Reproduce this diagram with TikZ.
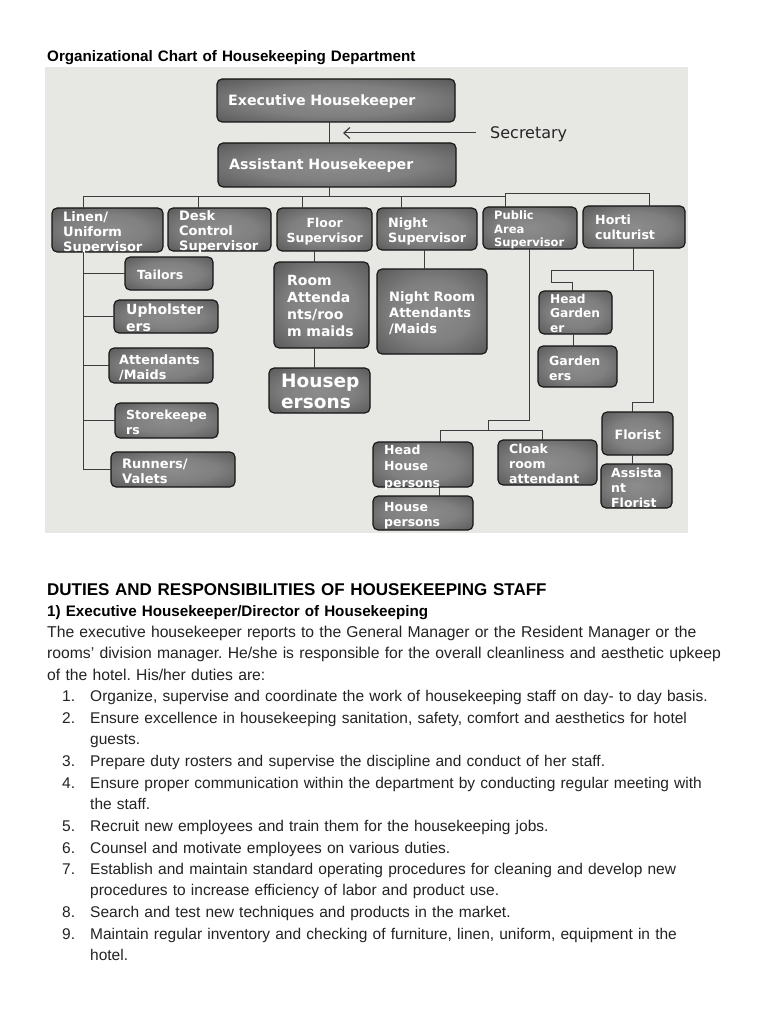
\documentclass[tikz,border=0pt]{standalone}
\usepackage{fontspec}
\setmainfont{Liberation Sans}
\newfontfamily\boxfont{DejaVu Sans}
\usetikzlibrary{arrows.meta}
\frenchspacing
\definecolor{bgc}{RGB}{231,232,228}
\definecolor{linec}{RGB}{60,60,60}
\definecolor{txtc}{RGB}{35,35,35}
\pgfdeclareradialshading{boxshade}{\pgfpoint{0bp}{0bp}}{color(0bp)=(black!45); color(18bp)=(black!50); color(32bp)=(black!62); color(43bp)=(black!78); color(50bp)=(black!86); color(72bp)=(black!88)}
\newcommand{\hkb}[5]{\node[hkbox, minimum width={#4-#2}, minimum height={#5-#3}] (#1) at (#2,#3) {};}
\newcommand{\fsz}[2]{\fontsize{#1}{#2}\selectfont}
\tikzset{
  hkbox/.style={draw=black!92, line width=1.1pt, rounded corners=5pt, shade, shading=boxshade, anchor=north west, inner sep=0pt, outer sep=0pt},
  bt/.style={text=white, inner sep=0pt, anchor=base west, text width=130pt, align=left},
  bf/.style 2 args={font=\boxfont\bfseries\fontsize{#1}{#2}\selectfont},
  conn/.style={draw=linec, line width=1pt},
  body/.style={text=txtc, inner sep=0pt, anchor=base west, align=left, text width=700pt},
}
\begin{document}
\begin{tikzpicture}[x=1pt,y=-1pt]
\path[use as bounding box, fill=white] (0,0) rectangle (768,1024);
\fill[bgc] (45,67) rectangle (688,533);

% boxes
\hkb{exec}{217}{79}{455}{122}
\hkb{asst}{218}{143}{456}{187}
\hkb{linen}{52}{208}{163}{252}
\hkb{desk}{168}{208}{271}{251}
\hkb{floor}{277}{208}{372}{251}
\hkb{night}{377}{208}{477}{250}
\hkb{public}{483}{207}{577}{249}
\hkb{horti}{583}{206}{685}{248}
\hkb{tail}{125}{257}{213}{290}
\hkb{uphol}{114}{300}{218}{333}
\hkb{attm}{109}{348}{213}{383}
\hkb{store}{115}{403}{218}{438}
\hkb{runn}{111}{452}{235}{487}
\hkb{room}{274}{262}{369}{348}
\hkb{hsp}{269}{368}{370}{413}
\hkb{nra}{377}{269}{487}{354}
\hkb{hg}{539}{291}{612}{334}
\hkb{gard}{538}{346}{617}{387}
\hkb{hhp}{373}{442}{473}{487}
\hkb{hp}{373}{496}{473}{530}
\hkb{cloak}{498}{440}{597}{485}
\hkb{flor}{602}{412}{673}{455}
\hkb{aflor}{601}{464}{672}{508}

% box texts
\node[bt, bf={14.2}{16}, text width=230pt] (exec-t) at (228,106) {Executive Housekeeper};
\node[bt, bf={14.2}{16}, text width=230pt] (asst-t) at (229,170) {Assistant Housekeeper};
\node[bt, bf={13}{14.7}] (linen-t) at (63,222) {Linen/\\Uniform\\Supervisor};
\node[bt, bf={13}{15}] (desk-t) at (179,221) {Desk\\Control\\Supervisor};
\node[bt, bf={12.5}{14}, text width=95pt, align=center] (floor-t) at (277,228) {Floor\\Supervisor};
\node[bt, bf={12.8}{15}] (night-t) at (388,227) {Night\\Supervisor};
\node[bt, bf={11.5}{14}] (public-t) at (494,219) {Public\\Area\\Supervisor};
\node[bt, bf={12.6}{15}] (horti-t) at (595,225) {Horti\\culturist};
\node[bt, bf={12.5}{15}] (tail-t) at (137,279) {Tailors};
\node[bt, bf={14}{17}] (uphol-t) at (126,314) {Upholster\\ers};
\node[bt, bf={12.8}{15}] (attm-t) at (119,364) {Attendants\\/Maids};
\node[bt, bf={12.5}{15}] (store-t) at (126,419) {Storekeepe\\rs};
\node[bt, bf={13}{15}] (runn-t) at (122,468) {Runners/\\Valets};
\node[bt, bf={14}{17}] (room-t) at (287,285) {Room\\Attenda\\nts/roo\\m maids};
\node[bt, bf={18.5}{21}] (hsp-t) at (281,387) {Housep\\ersons};
\node[bt, bf={13}{16}] (nra-t) at (389,301) {Night Room\\Attendants\\/Maids};
\node[bt, bf={12.2}{14.7}] (hg-t) at (550,303) {Head\\Garden\\er};
\node[bt, bf={12.5}{15}] (gard-t) at (549,365) {Garden\\ers};
\node[bt, bf={12.5}{16.5}] (hhp-t) at (384,454) {Head\\House\\persons};
\node[bt, bf={12.5}{15}] (hp-t) at (384,511) {House\\persons};
\node[bt, bf={12.5}{15}] (cloak-t) at (509,453) {Cloak\\room\\attendant};
\node[bt, bf={12.8}{15}, text width=71pt, align=center] (flor-t) at (602,439) {Florist};
\node[bt, bf={12.5}{15}] (aflor-t) at (611,477) {Assista\\nt\\Florist};

% secretary
\node[anchor=base west, inner sep=0pt, text=black!85, font=\boxfont\fsz{16}{18}] (sec) at (490,139) {Secretary};
\coordinate (secl) at (476,133);
\coordinate (sectip) at (343,133);
\draw[conn, -{Straight Barb[length=6pt,width=11pt,line width=1.2pt]}] (secl) -- (sectip);

% connectors
\coordinate (vx) at (329,0);
\draw[conn] (exec.south -| vx) -- (asst.north -| vx);
\coordinate (busL) at (83,197);
\coordinate (busR) at (505,197);
\draw[conn] (asst.south -| vx) -- (vx |- busL);
\draw[conn] (busL) -- (busR);
\draw[conn] (busL) -- (linen.north -| busL);
\coordinate (dx) at (198,197);
\draw[conn] (dx) -- (desk.north -| dx);
\coordinate (fx) at (302,197);
\draw[conn] (fx) -- (floor.north -| fx);
\coordinate (nx) at (401,197);
\draw[conn] (nx) -- (night.north -| nx);
\coordinate (px) at (505,194);
\draw[conn] (px) -- (public.north -| px);
\coordinate (hx) at (649,194);
\draw[conn] (px) -- (hx) -- (horti.north -| hx);

\coordinate (lx) at (83,0);
\draw[conn] (linen.south -| lx) |- (runn.west);
\foreach \n in {tail,uphol,attm,store} \draw[conn] (lx |- \n.west) -- (\n.west);

\coordinate (rx) at (314,0);
\draw[conn] (floor.south -| rx) -- (room.north -| rx);
\draw[conn] (room.south -| rx) -- (hsp.north -| rx);
\coordinate (nrx) at (424,0);
\draw[conn] (night.south -| nrx) -- (nra.north -| nrx);

\coordinate (pa) at (529,420);
\coordinate (pb) at (488,420);
\coordinate (pc) at (488,430);
\coordinate (pl) at (440,430);
\coordinate (pr) at (542,430);
\draw[conn] (public.south -| pa) -- (pa) -- (pb) -- (pc);
\draw[conn] (hhp.north -| pl) -- (pl) -- (pr) -- (cloak.north -| pr);
\coordinate (hpx) at (439,0);
\draw[conn] (hhp.south -| hpx) -- (hp.north -| hpx);

\coordinate (ha) at (633,270);
\coordinate (hb) at (551,270);
\coordinate (hc) at (551,282);
\coordinate (hd) at (572,282);
\coordinate (he) at (653,270);
\coordinate (hf) at (653,402);
\coordinate (hgg) at (632,402);
\draw[conn] (horti.south -| ha) -- (ha);
\draw[conn] (hd) -- (hc) -- (hb) -- (he) -- (hf) -- (hgg) -- (flor.north -| hgg);
\draw[conn] (hd) -- (hg.north -| hd);
\coordinate (gx) at (573,0);
\draw[conn] (hg.south -| gx) -- (gard.north -| gx);
\coordinate (fax) at (632,0);
\draw[conn] (flor.south -| fax) -- (aflor.north -| fax);

% text
\node[body, text=black, font=\bfseries\fsz{15.2}{17}] (title) at (47,62) {Organizational Chart of Housekeeping Department};
\node[body, text=black, font=\bfseries\fsz{17}{20}] (h1) at (47,595) {DUTIES AND RESPONSIBILITIES OF HOUSEKEEPING STAFF};
\node[body, text=black, font=\bfseries\fsz{15.2}{20}] (h2) at (47,616) {1) Executive Housekeeper/Director of Housekeeping};
\node[body, font=\fsz{15.7}{21.8}] (para) at (47,637) {The executive housekeeper reports to the General Manager or the Resident Manager or the\\rooms’ division manager. He/she is responsible for the overall cleanliness and aesthetic upkeep\\of the hotel. His/her duties are:};

\tikzset{num/.style={body, text width=25pt, font=\fsz{15.5}{21.5}}, itm/.style={body, font=\fsz{15.5}{21.5}}}
\node[num] (n1) at (62,701) {1.};
\node[itm] (t1) at (90,701) {Organize, supervise and coordinate the work of housekeeping staff on day- to day basis.};
\node[num] (n2) at (62,723) {2.};
\node[itm] (t2) at (90,723) {Ensure excellence in housekeeping sanitation, safety, comfort and aesthetics for hotel\\guests.};
\node[num] (n3) at (62,766) {3.};
\node[itm] (t3) at (90,766) {Prepare duty rosters and supervise the discipline and conduct of her staff.};
\node[num] (n4) at (62,788) {4.};
\node[itm] (t4) at (90,788) {Ensure proper communication within the department by conducting regular meeting with\\the staff.};
\node[num] (n5) at (62,831) {5.};
\node[itm] (t5) at (90,831) {Recruit new employees and train them for the housekeeping jobs.};
\node[num] (n6) at (62,853) {6.};
\node[itm] (t6) at (90,853) {Counsel and motivate employees on various duties.};
\node[num] (n7) at (62,874) {7.};
\node[itm] (t7) at (90,874) {Establish and maintain standard operating procedures for cleaning and develop new\\procedures to increase efficiency of labor and product use.};
\node[num] (n8) at (62,917) {8.};
\node[itm] (t8) at (90,917) {Search and test new techniques and products in the market.};
\node[num] (n9) at (62,939) {9.};
\node[itm] (t9) at (90,939) {Maintain regular inventory and checking of furniture, linen, uniform, equipment in the\\hotel.};
\end{tikzpicture}
\end{document}
